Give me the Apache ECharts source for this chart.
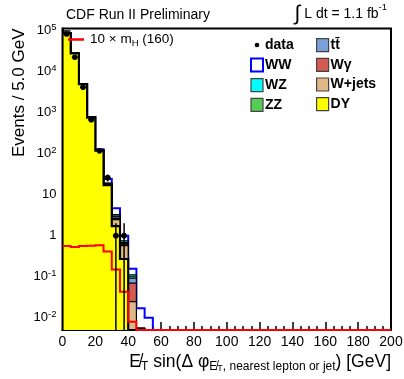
<!DOCTYPE html>
<html>
<head>
<meta charset="utf-8">
<script src="https://cdn.jsdelivr.net/npm/echarts@6/dist/echarts.min.js"></script>
<style>
  html, body { margin: 0; padding: 0; background: #fff; }
  #chart { width: 404px; height: 379px; }
</style>
</head>
<body>
<div id="chart"></div>
<script>
// bin edges (GeV) for the populated part of the histogram, 5 GeV bins
const edges = [0, 5, 10, 15, 20, 25, 30, 35, 40, 45, 50, 55];

// stacked backgrounds, events per bin (bottom of stack first)
const dy     = [86700, 27800, 4930, 760, 118, 17, 1.7, 0.27, 0, 0, 0];
const wjets  = [60, 35, 15, 5, 2, 1.0, 0.75, 0.30, 0.0245, 0.0055, 0];
const wgamma = [25, 12, 5, 2, 0.8, 0.3, 0.15, 0.03, 0.045, 0, 0];
const ttbar  = [1.0, 1.2, 1.0, 0.7, 0.5, 0.3, 0.25, 0.04, 0.022, 0, 0];
const zz     = [30, 18, 8, 3, 1, 0.2, 0.15, 0.04, 0.008, 0, 0];
const wz     = [12, 8, 4, 1.5, 0.6, 0.3, 0.25, 0.07, 0.011, 0, 0];
const ww     = [15, 12, 10, 8, 5, 5, 1.4, 0.25, 0.045, 0.0115, 0.01];

// observed data (first 8 bins, zero afterwards)
const dataCounts = [83000, 22500, 4150, 670, 117, 26, 1, 1];

// 10 x Higgs signal, m_H = 160 (zero beyond 45 GeV)
const signal = [0.56, 0.53, 0.56, 0.57, 0.58, 0.41, 0.15, 0.043, 0.008];

const yTicks = [0.01, 0.1, 1, 10, 100, 1000, 10000, 100000];
const xMax = 200;
const yMin = 0.005;
const yMax = 113000;
const binWidth = 5;
const FONT = 'Liberation Sans, Arial, Helvetica, sans-serif';

// log minor ticks 2..9 x 10^n
const yMinor = [];
[0.001].concat(yTicks).forEach((t) => {
  for (let k = 2; k <= 9; k++) {
    const v = t * k;
    if (v > yMin && v < yMax) yMinor.push(v);
  }
});

const stackDefs = [
  { name: 'DY', values: dy, fill: '#ffff00', line: '#000000', width: 2.2 },
  { name: 'W+jets', values: wjets, fill: '#deb887', line: '#000000', width: 1.2 },
  { name: 'Wγ', values: wgamma, fill: '#d65a54', line: '#000000', width: 1.2 },
  { name: 'tt\u0304', values: ttbar, fill: '#7b9fd8', line: '#000000', width: 1.2 },
  { name: 'ZZ', values: zz, fill: '#55cc55', line: '#000000', width: 1.2 },
  { name: 'WZ', values: wz, fill: '#00ffff', line: '#000000', width: 1.2 },
  { name: 'WW', values: ww, fill: '#ffffff', line: '#0000ff', width: 2 },
];

// cumulative tops of the stack
let running = edges.slice(1).map(() => 0);
stackDefs.forEach((s) => {
  running = running.map((r, i) => r + s.values[i]);
  s.tops = running.slice();
});

function stepPoints(api, tops, lastEdge) {
  const pts = [api.coord([edges[0], yMin])];
  tops.forEach((v, i) => {
    const y = Math.max(v, yMin);
    pts.push(api.coord([edges[i], y]));
    pts.push(api.coord([edges[i + 1], y]));
  });
  pts.push(api.coord([edges[tops.length], yMin]));
  if (lastEdge !== undefined) pts.push(api.coord([lastEdge, yMin]));
  return pts;
}

// drawn top of stack first so that lower components overlay
const histSeries = stackDefs.slice().reverse().map((s) => ({
  name: s.name,
  type: 'custom',
  clip: true,
  itemStyle: { color: s.fill },
  data: [[0, 1]],
  renderItem: (params, api) => {
    const pts = stepPoints(api, s.tops);
    return {
      type: 'group',
      children: [
        { type: 'polygon', shape: { points: pts }, style: { fill: s.fill, stroke: null } },
        { type: 'polyline', shape: { points: pts }, style: { fill: null, stroke: s.line, lineWidth: s.width } },
      ],
    };
  },
}));

const signalSeries = {
  name: '10 × m_H (160)',
  type: 'custom',
  clip: false,
  itemStyle: { color: '#ff0000' },
  data: [[0, 1]],
  renderItem: (params, api) => {
    const pts = stepPoints(api, signal, xMax).slice(1);
    return { type: 'polyline', shape: { points: pts }, style: { fill: null, stroke: '#ff0000', lineWidth: 2 } };
  },
};

const dataSeries = {
  name: 'data',
  type: 'custom',
  clip: true,
  itemStyle: { color: '#000' },
  data: dataCounts.map((v, i) => [edges[i] + binWidth / 2, v]),
  renderItem: (params, api) => {
    const x = api.value(0);
    const v = api.value(1);
    const err = Math.sqrt(v);
    const p = api.coord([x, v]);
    const lo = api.coord([x, Math.max(v - err, yMin)]);
    const hi = api.coord([x, v + err]);
    return {
      type: 'group',
      children: [
        { type: 'line', shape: { x1: p[0], y1: lo[1], x2: p[0], y2: hi[1] }, style: { stroke: '#000', lineWidth: 1.5 } },
        { type: 'line', shape: { x1: p[0] - 3, y1: p[1], x2: p[0] + 3, y2: p[1] }, style: { stroke: '#000', lineWidth: 1.5 } },
        { type: 'circle', shape: { cx: p[0], cy: p[1], r: 2.8 }, style: { fill: '#000' } },
      ],
    };
  },
};

const legendItem = (name) => {
  const s = stackDefs.find((d) => d.name === name);
  return {
    name: name,
    icon: 'rect',
    itemStyle: name === 'WW'
      ? { color: '#ffffff', borderColor: '#0000ff', borderWidth: 2 }
      : { color: s.fill, borderColor: '#444', borderWidth: 1.2 },
  };
};

const legendText = { fontSize: 14, fontWeight: 'bold', color: '#000', fontFamily: FONT, padding: [0, 0, 0, -3] };

const chart = echarts.init(document.getElementById('chart'), null, { renderer: 'canvas' });
chart.setOption({
  animation: false,
  backgroundColor: '#fff',
  grid: {
    left: 62.5, right: 13, top: 28.5, bottom: 49,
    show: true, borderColor: '#000', borderWidth: 2, backgroundColor: 'transparent',
    containLabel: false, outerBoundsMode: 'none',
  },
  xAxis: {
    type: 'value', min: 0, max: xMax, interval: 20,
    axisLine: { show: true, lineStyle: { color: '#000', width: 2 } },
    axisTick: { inside: true, length: 8, lineStyle: { color: '#000', width: 1.5 } },
    minorTick: { show: true, splitNumber: 4, length: 4, lineStyle: { color: '#000', width: 1.5 } },
    splitLine: { show: false },
    axisLabel: { color: '#000', fontSize: 14, fontFamily: FONT, margin: 5 },
  },
  yAxis: [
    {
      type: 'log', min: yMin, max: yMax, logBase: 10,
      axisLine: { show: true, lineStyle: { color: '#000', width: 2 } },
      axisTick: { inside: true, length: 8, customValues: yTicks, lineStyle: { color: '#000', width: 1.5 } },
      splitLine: { show: false },
      axisLabel: {
        customValues: yTicks, margin: 6, color: '#000', fontFamily: FONT,
        formatter: (v) => {
          const e = Math.round(Math.log10(v));
          if (e === 0) return '{b|1}';
          if (e === 1) return '{b|10}';
          return '{b|10}{p|' + e + '}';
        },
        rich: {
          b: { fontSize: 13, lineHeight: 16, fontFamily: FONT, color: '#000' },
          p: { fontSize: 9.5, lineHeight: 9, verticalAlign: 'top', fontFamily: FONT, color: '#000' },
        },
      },
    },
    {
      type: 'log', min: yMin, max: yMax, logBase: 10, position: 'left',
      axisLine: { show: false },
      axisTick: { show: true, inside: true, length: 4, customValues: yMinor, lineStyle: { color: '#000', width: 1.2 } },
      axisLabel: { show: false, customValues: yMinor },
      splitLine: { show: false },
    },
  ],
  legend: [
    {
      orient: 'vertical', left: 250, top: 38, padding: 0, itemWidth: 12, itemHeight: 13, itemGap: 5.5,
      selectedMode: false, textStyle: legendText,
      data: [
        { name: 'data', icon: 'path://M0,0M12,13M8.3,6.5A2.3,2.3,0,1,1,3.7,6.5A2.3,2.3,0,1,1,8.3,6.5Z', itemStyle: { color: '#000', borderWidth: 0 } },
        legendItem('WW'), legendItem('WZ'), legendItem('ZZ'),
      ],
    },
    {
      orient: 'vertical', left: 316, top: 38, padding: 0, itemWidth: 12, itemHeight: 13, itemGap: 5.5,
      selectedMode: false, textStyle: legendText,
      data: [legendItem('tt\u0304'), legendItem('Wγ'), legendItem('W+jets'), legendItem('DY')],
    },
    {
      left: 68, top: 32.5, padding: 0, itemWidth: 16, itemHeight: 2.5, selectedMode: false,
      data: [{ name: '10 × m_H (160)', icon: 'rect', itemStyle: { color: '#ff0000', borderWidth: 0 } }],
      formatter: () => '{a|10 × m}{s|H}{a| (160)}',
      textStyle: {
        color: '#000', fontFamily: FONT, padding: [0, 0, 0, 1],
        rich: {
          a: { fontSize: 13.5, lineHeight: 17, fontFamily: FONT, color: '#000' },
          s: { fontSize: 9.5, lineHeight: 10, verticalAlign: 'bottom', fontFamily: FONT, color: '#000' },
        },
      },
    },
  ],
  graphic: [
    {
      type: 'text', x: 66, y: 15,
      style: { text: 'CDF Run II Preliminary', font: '14px ' + FONT, fill: '#000', align: 'left', verticalAlign: 'middle' },
    },
    {
      type: 'text', x: 387, y: 14,
      style: {
        text: '{i|∫}{t| L dt = 1.1 fb}{p|-1}',
        fill: '#000', align: 'right', verticalAlign: 'middle',
        rich: {
          i: { fontSize: 21, lineHeight: 24, fontFamily: FONT, fill: '#000' },
          t: { fontSize: 14, lineHeight: 24, fontFamily: FONT, fill: '#000' },
          p: { fontSize: 9.5, lineHeight: 18, verticalAlign: 'top', fontFamily: FONT, fill: '#000' },
        },
      },
    },
    {
      type: 'text', x: 19, y: 28.5, rotation: Math.PI / 2,
      style: { text: 'Events / 5.0 GeV', font: '17px ' + FONT, fill: '#000', align: 'right', verticalAlign: 'middle' },
    },
    {
      type: 'text', x: 391, y: 362,
      style: {
        text: '{m|E\u0338}{s|T}{m| sin(Δ φ}{ss|E\u0338}{sss|T}{ss|, nearest lepton or jet}{m|) [GeV]}',
        align: 'right', verticalAlign: 'middle', fill: '#000',
        rich: {
          m: { fontSize: 17.5, lineHeight: 22, fontFamily: FONT, fill: '#000' },
          s: { fontSize: 12, lineHeight: 12, verticalAlign: 'bottom', fontFamily: FONT, fill: '#000' },
          ss: { fontSize: 12, lineHeight: 8, verticalAlign: 'bottom', fontFamily: FONT, fill: '#000' },
          sss: { fontSize: 9, lineHeight: 4, verticalAlign: 'bottom', fontFamily: FONT, fill: '#000' },
        },
      },
    },
  ],
  series: histSeries.concat([signalSeries, dataSeries]),
});
</script>
</body>
</html>
